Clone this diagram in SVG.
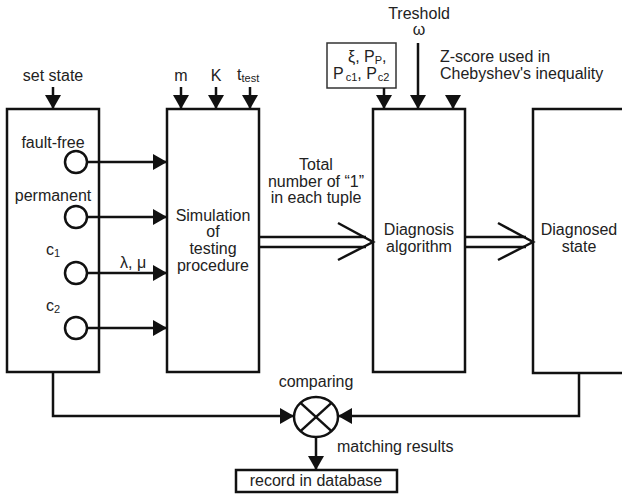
<svg xmlns="http://www.w3.org/2000/svg" width="622" height="494" viewBox="0 0 622 494">
<style>
text{font-family:"Liberation Sans",Arial,sans-serif;font-size:16px;fill:#222}
.c{text-anchor:middle}
.box{fill:#fff;stroke:#111;stroke-width:2.5}
.ln{fill:none;stroke:#111;stroke-width:2.5}
.arr{fill:none;stroke:#111;stroke-width:2.5;marker-end:url(#ah)}
.sub{font-size:11px}
</style>
<defs>
<marker id="ah" markerWidth="14" markerHeight="16" refX="14" refY="8" orient="auto" markerUnits="userSpaceOnUse"><path d="M0,0 L14,8 L0,16 z" fill="#111"/></marker>
</defs>
<g id="state">
<rect class="box" x="7" y="109" width="92" height="263"/>
<text class="c" x="53" y="148">fault-free</text>
<text class="c" x="53" y="201">permanent</text>
<text x="46" y="255">c<tspan class="sub" dy="2">1</tspan></text>
<text x="46" y="311">c<tspan class="sub" dy="2">2</tspan></text>
<circle class="ln" cx="76" cy="162" r="11"/>
<circle class="ln" cx="76" cy="217" r="11"/>
<circle class="ln" cx="76" cy="273" r="11"/>
<circle class="ln" cx="76" cy="328" r="11"/>
<text class="c" x="53" y="81">set state</text>
</g>
<g id="simulation">
<rect class="box" x="167" y="109" width="92" height="263"/>
<text class="c" x="213" y="221">Simulation</text>
<text class="c" x="213" y="237">of</text>
<text class="c" x="213" y="254">testing</text>
<text class="c" x="213" y="271">procedure</text>
<text class="c" x="181" y="81">m</text>
<text class="c" x="216" y="81">K</text>
<text x="237" y="80">t<tspan class="sub" dy="2" font-size="12">test</tspan></text>
</g>
<g id="diagnosis">
<rect class="box" x="373" y="109" width="92" height="263"/>
<text class="c" x="419" y="235">Diagnosis</text>
<text class="c" x="419" y="252">algorithm</text>
<text class="c" x="419" y="19">Treshold</text>
<text class="c" x="419" y="35">ω</text>
<text x="440" y="62">Z-score used in</text>
<text x="440" y="79">Chebyshev's inequality</text>
</g>
<g id="params">
<rect x="327" y="43" width="69" height="45" fill="#fff" stroke="#333" stroke-width="1.5"/>
<text x="348" y="62">ξ, P<tspan class="sub" dy="2">P</tspan><tspan dy="-2">,</tspan></text>
<text x="333" y="79">P<tspan class="sub" dy="2" dx="2">c1</tspan><tspan dy="-2">,  P</tspan><tspan class="sub" dy="2" dx="1">c2</tspan></text>
</g>
<g id="diagnosed">
<rect class="box" x="533" y="109" width="100" height="264"/>
<text class="c" x="579" y="235">Diagnosed</text>
<text class="c" x="579" y="252">state</text>
</g>
<g id="comparator">
<ellipse class="ln" cx="316" cy="417" rx="22" ry="20"/>
<line class="ln" x1="300.5" y1="402.8" x2="331.5" y2="431.2"/>
<line class="ln" x1="331.5" y1="402.8" x2="300.5" y2="431.2"/>
<text class="c" x="316" y="387">comparing</text>
<text x="337" y="452">matching results</text>
</g>
<g id="record">
<rect class="box" x="236" y="470" width="161" height="22"/>
<text class="c" x="316" y="486">record in database</text>
</g>
<g id="connectors">
<line class="arr" x1="53" y1="87" x2="53" y2="109"/>
<line class="arr" x1="181" y1="87" x2="181" y2="109"/>
<line class="arr" x1="216" y1="87" x2="216" y2="109"/>
<line class="arr" x1="250" y1="87" x2="250" y2="109"/>
<line class="arr" x1="384" y1="88" x2="384" y2="109"/>
<line class="arr" x1="418" y1="43" x2="418" y2="109"/>
<line class="arr" x1="453" y1="96" x2="453" y2="109"/>
<line class="arr" x1="87" y1="162" x2="167" y2="162"/>
<line class="arr" x1="87" y1="217" x2="167" y2="217"/>
<line class="arr" x1="87" y1="273" x2="167" y2="273"/>
<line class="arr" x1="87" y1="328" x2="167" y2="328"/>
<text x="120" y="268" font-size="15">λ, μ</text>
<text class="c" x="316" y="170">Total</text>
<text class="c" x="316" y="187">number of “1”</text>
<text class="c" x="316" y="203">in each tuple</text>
<line class="ln" x1="259" y1="237" x2="366" y2="237"/>
<line class="ln" x1="259" y1="247" x2="366" y2="247"/>
<polyline class="ln" points="338,223 373,242 338,260"/>
<line class="ln" x1="465" y1="237" x2="526" y2="237"/>
<line class="ln" x1="465" y1="247" x2="526" y2="247"/>
<polyline class="ln" points="498,223 533,242 498,260"/>
<polyline class="arr" points="53,372 53,416 294,416"/>
<polyline class="arr" points="579,373 579,416 338,416"/>
<line class="arr" x1="316" y1="437" x2="316" y2="470"/>
</g>
</svg>
